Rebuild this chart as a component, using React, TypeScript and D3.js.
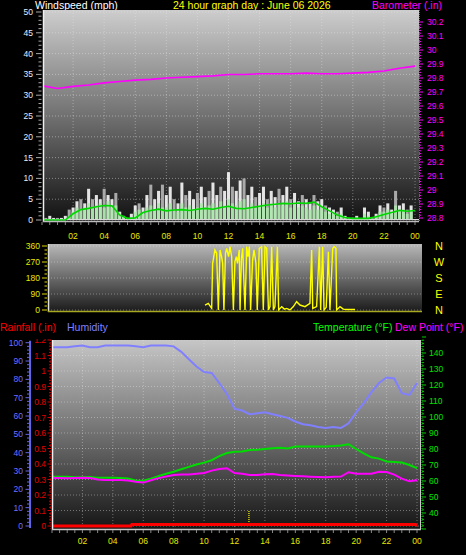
import React from "react";
import * as d3 from "d3";

// ---------- DATA ----------
const hourTickValues = [2, 4, 6, 8, 10, 12, 14, 16, 18, 20, 22, 24];
const hourLabels = ["02", "04", "06", "08", "10", "12", "14", "16", "18", "20", "22", "00"];

const speedTicks = [0, 5, 10, 15, 20, 25, 30, 35, 40, 45, 50];
const baroTicks = [28.8, 28.9, 29, 29.1, 29.2, 29.3, 29.4, 29.5, 29.6, 29.7, 29.8, 29.9, 30, 30.1, 30.2];
const dirTicks = [0, 90, 180, 270, 360];
const compassLabels = ["N", "E", "S", "W", "N"];
const humTicks = [0, 10, 20, 30, 40, 50, 60, 70, 80, 90, 100];
const rainTicks = [0, 0.1, 0.2, 0.3, 0.4, 0.5, 0.6, 0.7, 0.8, 0.9, 1, 1.1, 1.2];
const tempTicks = [40, 50, 60, 70, 80, 90, 100, 110, 120, 130, 140];

// wind samples every 15 minutes
const gustMph = [
  0.5, 0.5, 1, 0.5, 0.5, 0.5, 1, 2.5,
  3, 4.5, 5, 4, 7.5, 5,
  6, 5, 7.5, 6, 5, 6.5,
  2, 1, 0.5, 1.5,
  3.5, 4, 3, 6,
  8.5, 5, 7, 8.5,
  6, 8, 5, 4,
  9, 6, 7, 5,
  6.5, 8, 5.5, 7,
  9, 6, 8, 7,
  11.5, 8, 7, 9.5,
  10, 6, 8, 5.5,
  6.5, 8, 5, 7,
  5.5, 7.5, 6, 8,
  5, 6.5, 4.5, 6,
  5, 4, 6, 4.5,
  5, 3.5, 3, 2.5,
  2, 3, 1, 0.5,
  0.5, 1, 0.5, 3,
  2, 0.5, 1.5, 3.5,
  3, 4, 2.5, 7,
  3.5, 4, 2.5, 3.5,
];
const speedSampleMph = [
  0, 0, 0, 0, 0, 0, 0, 1,
  2, 3, 2.5, 3, 4, 3,
  3.5, 4, 3, 4.5, 3, 3.5,
  1, 0.5, 0, 0.5,
  2, 2.5, 1.5, 3,
  3.5, 2.5, 4, 3,
  3, 4, 2.5, 2,
  4, 3, 3.5, 2.5,
  3, 4, 3, 3.5,
  4, 3, 4.5, 3.5,
  5, 4, 3.5, 4.5,
  5, 3, 4, 3,
  3.5, 4, 3, 4,
  3, 4, 3.5, 4.5,
  3, 4, 3, 3.5,
  3, 2.5, 3.5, 2.5,
  3, 2, 1.5, 1.5,
  1, 1.5, 0.5, 0,
  0, 0.5, 0, 1.5,
  1, 0, 1, 2,
  2, 2.5, 1.5, 3.5,
  2, 2.5, 1.5, 2,
];
// average wind line, every 30 minutes
const avgWindMph = [
  0, 0, 0, 0, 1.5, 2.5, 2.8, 3.2, 3.5, 3.4,
  1.2, 0.4, 0.5, 1.8, 2.3, 2.6, 2.2, 2.4, 2.5, 2.3,
  2.6, 2.8, 2.6, 3.0, 3.3, 2.8, 2.7, 3.0, 3.3, 3.6,
  3.8, 4.0, 3.9, 4.1, 4.0, 4.3, 3.2, 2.2, 1.2, 0.6,
  0.4, 0.4, 0.4, 0.8, 1.3, 1.8, 2.3, 2.1, 2.3,
];
// barometer, hourly
const baroIn = [
  29.745, 29.725, 29.74, 29.75, 29.765, 29.775, 29.785, 29.79, 29.8, 29.805,
  29.81, 29.815, 29.825, 29.825, 29.83, 29.83, 29.83, 29.835, 29.83, 29.83,
  29.835, 29.84, 29.85, 29.87, 29.885,
];
// wind direction
const dirHours = [
  10.13, 10.34, 10.56, 10.62, 10.77, 10.88, 10.99, 11.1, 11.2, 11.27, 11.35, 11.45, 11.53, 11.65, 11.74, 11.85,
  11.96, 12.06, 12.15, 12.22, 12.34, 12.39, 12.48, 12.56, 12.71, 12.82, 12.9, 12.99, 13.07, 13.2, 13.29, 13.42,
  13.5, 13.63, 13.78, 13.89, 14.0, 14.11, 14.22, 14.32, 14.43, 14.54, 14.64, 14.8, 14.88, 15.08, 15.25, 15.4,
  15.61, 15.83, 16.04, 16.26, 16.58, 16.9, 17.01, 17.08, 17.33, 17.51, 17.59, 17.72, 17.81, 17.95, 18.09, 18.19,
  18.37, 18.47, 18.58, 18.62, 18.84, 19.05, 19.27, 19.81,
];
const dirDegrees = [
  28, 37, 9, 262, 338, 319, 0, 338, 300, 262, 0, 320, 347, 300, 356, 300,
  0, 272, 300, 262, 338, 0, 290, 347, 0, 356, 300, 356, 0, 281, 338, 262,
  0, 347, 356, 0, 356, 347, 0, 19, 356, 0, 19, 356, 0, 19, 5, 9,
  0, 19, 47, 28, 19, 37, 338, 9, 19, 356, 0, 356, 0, 15, 328, 0,
  347, 356, 347, 0, 19, 5, 3, 3,
];
// bottom panel, every 30 minutes
const humidityPct = [
  97.5, 97.5, 97.5, 98, 98.5, 97.5, 97.5, 98.5, 98.5, 98.5,
  98.5, 98, 97.5, 98.5, 98.5, 98.5, 98, 95, 91, 87,
  84, 83.5, 78, 72, 64, 63, 61, 61.5, 62, 61,
  60, 59, 57, 55.5, 55, 54, 53.5, 54, 53.5, 56,
  62, 67, 73, 78, 81, 80.5, 72.5, 71.5, 78,
];
const temperatureF = [
  62.7, 62.7, 62.7, 62.3, 62.3, 62.5, 62, 62, 62, 61.8,
  61.5, 60.3, 60.2, 61.5, 63, 64.5, 65.8, 67.3, 68.8, 70.3,
  71.5, 73, 75.5, 77.5, 78.3, 78.5, 79.3, 79.5, 80, 80.5,
  80.8, 80.3, 81.5, 81.5, 81.5, 81.5, 81.6, 81.8, 82.2, 83,
  80, 77.2, 74.8, 74, 72.2, 71.8, 71.5, 70, 68,
];
const dewPointF = [
  61.9, 61.9, 61.7, 61.9, 62, 61.9, 61, 60.6, 60.6, 60.6,
  60.3, 59.5, 59, 60.5, 61.8, 62.8, 63.7, 64, 64, 64.5,
  65, 66.5, 67.5, 68, 65, 64.5, 63.8, 63.7, 64.2, 64.3,
  63.8, 63.5, 63.2, 63, 62.7, 62.5, 62.3, 62.6, 62.8, 65.5,
  64.5, 64.5, 64.5, 65.8, 65.6, 64, 61.5, 59.8, 60.4,
];
const rainHours = [0, 5.2, 5.25, 23.9, 24];
const rainIn = [0, 0, 0.01, 0.01, 0];
const rainRateHours = [12.95];
const rainRateIn = [0.1];

// ---------- LAYOUT ----------
const FONT = "'Liberation Sans', Arial, sans-serif";
const top = { x0: 43, x1: 419, y0: 10, y1: 222 };
const dir = { x0: 48, x1: 422, y0: 244, y1: 312 };
const bot = { x0: 52, x1: 421, y0: 340, y1: 530 };

const xTop = d3.scaleLinear().domain([0, 24]).range([42, 415]);
const ySpeed = d3.scaleLinear().domain([0, 50]).range([220, 12]);
const yBaro = d3.scaleLinear().domain([28.8, 30.2]).range([218, 22]);
const xDir = d3.scaleLinear().domain([0, 24]).range([48, 420]);
const yDir = d3.scaleLinear().domain([0, 360]).range([310, 246]);
const xBot = d3.scaleLinear().domain([0, 24]).range([52, 417]);
const yHum = d3.scaleLinear().domain([0, 100]).range([526, 342.7]);
const yRain = d3.scaleLinear().domain([0, 1.2]).range([526, 340]);
const yTemp = d3.scaleLinear().domain([30, 150]).range([529, 337]);

const halfHours = d3.range(0, 24.001, 0.5);

export default function App() {
  const baroLine = d3.line<number>().x((_, i) => xTop(i)).y((d) => yBaro(d))(baroIn) || "";
  const avgLine = d3.line<number>().x((_, i) => xTop(i * 0.5)).y((d) => ySpeed(d))(avgWindMph) || "";
  const dirLine = d3.line<number>().x((_, i) => xDir(dirHours[i])).y((d) => yDir(d))(dirDegrees) || "";
  const humLine = d3.line<number>().x((_, i) => xBot(i * 0.5)).y((d) => yHum(d))(humidityPct) || "";
  const tempLine = d3.line<number>().x((_, i) => xBot(i * 0.5)).y((d) => yTemp(d))(temperatureF) || "";
  const dewLine = d3.line<number>().x((_, i) => xBot(i * 0.5)).y((d) => yTemp(d))(dewPointF) || "";
  const rainLine = d3.line<number>().x((_, i) => xBot(rainHours[i])).y((d) => yRain(d))(rainIn) || "";

  const step = xTop(0.25) - xTop(0);
  const barW = step * 0.78;

  return (
    <svg width={466} height={555} style={{ position: "absolute", left: 0, top: 0, background: "#000" }} fontFamily={FONT}>
      <defs>
        <linearGradient id="gTop" x1="0" y1="0" x2="0" y2="1">
          <stop offset="0" stopColor="#cdcdcd" />
          <stop offset="0.45" stopColor="#7a7a7a" />
          <stop offset="1" stopColor="#111111" />
        </linearGradient>
        <linearGradient id="gDir" x1="0" y1="0" x2="0" y2="1">
          <stop offset="0" stopColor="#b8b8b8" />
          <stop offset="1" stopColor="#1a1a1a" />
        </linearGradient>
        <linearGradient id="gBot" x1="0" y1="0" x2="0" y2="1">
          <stop offset="0" stopColor="#c6c6c6" />
          <stop offset="0.45" stopColor="#787878" />
          <stop offset="1" stopColor="#141414" />
        </linearGradient>
        <clipPath id="cTop"><rect x={top.x0} y={top.y0} width={top.x1 - top.x0} height={top.y1 - top.y0} /></clipPath>
        <clipPath id="cDir"><rect x={dir.x0} y={dir.y0} width={dir.x1 - dir.x0} height={dir.y1 - dir.y0} /></clipPath>
        <clipPath id="cBot"><rect x={bot.x0} y={bot.y0} width={bot.x1 - bot.x0} height={bot.y1 - bot.y0} /></clipPath>
        <clipPath id="cRainLbl"><rect x={0} y={bot.y0 - 1} width={52} height={200} /></clipPath>
      </defs>
      <rect x={0} y={0} width={466} height={555} fill="#000" />

      {/* ---------- TOP PANEL ---------- */}
      <text x={35} y={9} fill="#ffffff" fontSize={10.5}>Windspeed (mph)</text>
      <text x={173} y={9} fill="#ffff00" fontSize={10.5}>24 hour graph day : June 06 2026</text>
      <text x={372} y={9} fill="#ff00ff" fontSize={10.5}>Barometer (.in)</text>

      <rect x={top.x0} y={top.y0} width={top.x1 - top.x0} height={top.y1 - top.y0} fill="url(#gTop)" />
      <g clipPath="url(#cTop)">
        {speedTicks.map((t) => (
          <line key={"hs" + t} x1={top.x0} x2={top.x1} y1={ySpeed(t)} y2={ySpeed(t)} stroke="#e8e8e8" strokeOpacity={0.45} strokeDasharray="1,2" />
        ))}
        {hourTickValues.map((h) => (
          <line key={"vt" + h} x1={xTop(h)} x2={xTop(h)} y1={top.y0} y2={top.y1} stroke="#e8e8e8" strokeOpacity={0.4} strokeDasharray="1,2" />
        ))}
        {gustMph.map((g, i) => (
          <rect key={"g" + i} x={xTop(i * 0.25) - barW / 2} y={ySpeed(g)} width={barW} height={ySpeed(0) - ySpeed(g)} fill={i % 3 === 1 ? "#b4b4b4" : "#f4f4f4"} fillOpacity={0.92} />
        ))}
        {speedSampleMph.map((s, i) => (
          <rect key={"s" + i} x={xTop(i * 0.25) - barW / 2} y={ySpeed(s)} width={barW} height={ySpeed(0) - ySpeed(s)} fill="#a8e8a8" fillOpacity={0.85} />
        ))}
        <line x1={top.x0} x2={top.x1} y1={ySpeed(0) - 0.5} y2={ySpeed(0) - 0.5} stroke="#d8d8d8" strokeWidth={1} />
        <path d={avgLine} fill="none" stroke="#00d800" strokeWidth={1.6} />
        <path d={baroLine} fill="none" stroke="#ff00ff" strokeWidth={1.6} />
      </g>
      <line x1={top.x0 + 0.5} x2={top.x0 + 0.5} y1={top.y0} y2={top.y1} stroke="#f0f0f0" strokeWidth={1.5} />
      <line x1={top.x0} x2={top.x1} y1={top.y1 - 0.5} y2={top.y1 - 0.5} stroke="#bdbdbd" strokeWidth={1.5} />
      {/* left speed axis */}
      {d3.range(0, 51, 1).map((v) => (
        <line key={"sm" + v} x1={v % 5 === 0 ? 36 : 38.5} x2={41.5} y1={ySpeed(v)} y2={ySpeed(v)} stroke="#a8a8a8" strokeWidth={1} />
      ))}
      {speedTicks.map((t) => (
        <text key={"sl" + t} x={33} y={ySpeed(t) + 3} fill="#e4ecff" fontSize={8.5} textAnchor="end">{t}</text>
      ))}
      {/* right barometer axis */}
      <line x1={419.5} x2={419.5} y1={top.y0} y2={top.y1} stroke="#ff00ff" strokeDasharray="1,1" />
      {d3.range(0, 71).map((k) => {
        const v = 28.8 + k * 0.02;
        const major = k % 5 === 0;
        return <line key={"bm" + k} x1={419} x2={major ? 423 : 421} y1={yBaro(v)} y2={yBaro(v)} stroke="#ff00ff" strokeWidth={1} />;
      })}
      {baroTicks.map((t) => (
        <text key={"bl" + t} x={427} y={yBaro(t) + 3} fill="#ff00ff" fontSize={8.5}>{String(t)}</text>
      ))}
      {/* top time axis */}
      {d3.range(0, 24.01, 0.5).map((h) => (
        <line key={"tt" + h} x1={xTop(h)} x2={xTop(h)} y1={top.y1} y2={top.y1 + 3} stroke="#8a8a8a" />
      ))}
      {hourTickValues.map((h, i) => (
        <text key={"tl" + h} x={xTop(h)} y={239} fill="#e8e800" fontSize={8.5} textAnchor="middle">{hourLabels[i]}</text>
      ))}

      {/* ---------- DIRECTION PANEL ---------- */}
      <rect x={dir.x0} y={dir.y0} width={dir.x1 - dir.x0} height={dir.y1 - dir.y0} fill="url(#gDir)" />
      <g clipPath="url(#cDir)">
        {dirTicks.map((t) => (
          <line key={"dh" + t} x1={dir.x0} x2={dir.x1} y1={yDir(t)} y2={yDir(t)} stroke="#e8e8e8" strokeOpacity={0.4} strokeDasharray="1,2" />
        ))}
        <path d={dirLine} fill="none" stroke="#ffff00" strokeWidth={1.4} />
      </g>
      <line x1={dir.x0 + 0.5} x2={dir.x0 + 0.5} y1={dir.y0} y2={dir.y1} stroke="#e0e0e0" strokeWidth={1.5} />
      <line x1={dir.x0} x2={dir.x1} y1={dir.y1 - 0.5} y2={dir.y1 - 0.5} stroke="#a8a820" strokeWidth={1.5} />
      {d3.range(0, 361, 22.5).map((v) => (
        <line key={"dm" + v} x1={v % 90 === 0 ? 42 : 44.5} x2={47} y1={yDir(v)} y2={yDir(v)} stroke="#d8d800" />
      ))}
      {dirTicks.map((t) => (
        <text key={"dl" + t} x={40} y={yDir(t) + 3} fill="#e8e800" fontSize={8.5} textAnchor="end">{t}</text>
      ))}
      {dirTicks.map((t, i) => (
        <text key={"cp" + i} x={439} y={yDir(t) + 4} fill="#ffff00" fontSize={11} textAnchor="middle">{compassLabels[i]}</text>
      ))}

      {/* ---------- BOTTOM PANEL ---------- */}
      <text x={0} y={331} fill="#ff0000" fontSize={10.5}>Rainfall (.in)</text>
      <text x={67} y={331} fill="#8080ff" fontSize={10.5}>Humidity</text>
      <text x={313} y={331} fill="#00ff00" fontSize={10.5}>Temperature (°F)</text>
      <text x={395} y={331} fill="#ff00ff" fontSize={10.5}>Dew Point (°F)</text>

      <rect x={bot.x0} y={bot.y0} width={bot.x1 - bot.x0} height={bot.y1 - bot.y0} fill="url(#gBot)" />
      <g clipPath="url(#cBot)">
        {rainTicks.map((t) => (
          <line key={"bh" + t} x1={bot.x0} x2={bot.x1} y1={yRain(t)} y2={yRain(t)} stroke="#e8e8e8" strokeOpacity={0.4} strokeDasharray="1,2" />
        ))}
        {hourTickValues.map((h) => (
          <line key={"bv" + h} x1={xBot(h)} x2={xBot(h)} y1={bot.y0} y2={bot.y1} stroke="#e8e8e8" strokeOpacity={0.4} strokeDasharray="1,2" />
        ))}
        {rainRateHours.map((h, i) => (
          <line key={"rr" + i} x1={xBot(h)} x2={xBot(h)} y1={yRain(0)} y2={yRain(rainRateIn[i])} stroke="#ffff00" strokeWidth={1.2} strokeDasharray="1,1" />
        ))}
        <path d={humLine} fill="none" stroke="#8080ff" strokeWidth={2} />
        <path d={tempLine} fill="none" stroke="#00dd00" strokeWidth={2} />
        <path d={dewLine} fill="none" stroke="#ff00ff" strokeWidth={2} />
        <path d={rainLine} fill="none" stroke="#ff0000" strokeWidth={3} />
      </g>
      <line x1={bot.x0 + 0.5} x2={bot.x0 + 0.5} y1={bot.y0} y2={bot.y1} stroke="#f0f0f0" strokeWidth={1.5} />
      <line x1={bot.x0} x2={bot.x1} y1={bot.y1 - 0.5} y2={bot.y1 - 0.5} stroke="#c8c8c8" strokeWidth={1.5} />
      <line x1={bot.x1 - 0.5} x2={bot.x1 - 0.5} y1={bot.y0} y2={bot.y1} stroke="#c8c8c8" strokeWidth={1} />
      {/* humidity axis */}
      <line x1={30} x2={30} y1={yHum(100) - 2} y2={yHum(0) + 2} stroke="#6464e6" strokeWidth={2} />
      {d3.range(0, 101, 2).map((v) => (
        <line key={"hm" + v} x1={v % 10 === 0 ? 25.5 : 27} x2={29} y1={yHum(v)} y2={yHum(v)} stroke="#6464e6" />
      ))}
      {humTicks.map((t) => (
        <text key={"hl" + t} x={23} y={yHum(t) + 3} fill="#7070ff" fontSize={8.5} textAnchor="end">{t}</text>
      ))}
      {/* rain axis */}
      <line x1={51} x2={51} y1={bot.y0} y2={bot.y1} stroke="#e00000" strokeDasharray="1,1" />
      {d3.range(0, 61).map((k) => (
        <line key={"rm" + k} x1={k % 5 === 0 ? 47.5 : 49} x2={51} y1={yRain(k * 0.02)} y2={yRain(k * 0.02)} stroke="#d00000" />
      ))}
      <g clipPath="url(#cRainLbl)">
        {rainTicks.map((t) => (
          <text key={"rl" + t} x={46} y={yRain(t) + 3} fill="#e00000" fontSize={8.5} textAnchor="end">{String(t)}</text>
        ))}
      </g>
      {/* temperature axis */}
      <line x1={422} x2={422} y1={bot.y0} y2={bot.y1} stroke="#00cc00" strokeDasharray="1,1" />
      {d3.range(30, 151, 2).map((v) => (
        <line key={"tm" + v} x1={422} x2={v % 10 === 0 ? 426 : 424} y1={yTemp(v)} y2={yTemp(v)} stroke="#00cc00" />
      ))}
      {tempTicks.map((t) => (
        <text key={"tl2" + t} x={429} y={yTemp(t) + 3} fill="#00e000" fontSize={8.5}>{t}</text>
      ))}
      {/* bottom time axis */}
      {halfHours.map((h) => (
        <line key={"bt" + h} x1={xBot(h)} x2={xBot(h)} y1={bot.y1} y2={bot.y1 + 3} stroke="#8a8a8a" />
      ))}
      {hourTickValues.map((h, i) => (
        <text key={"bl2" + h} x={xBot(h)} y={544} fill="#e8e800" fontSize={8.5} textAnchor="middle">{hourLabels[i]}</text>
      ))}
    </svg>
  );
}
